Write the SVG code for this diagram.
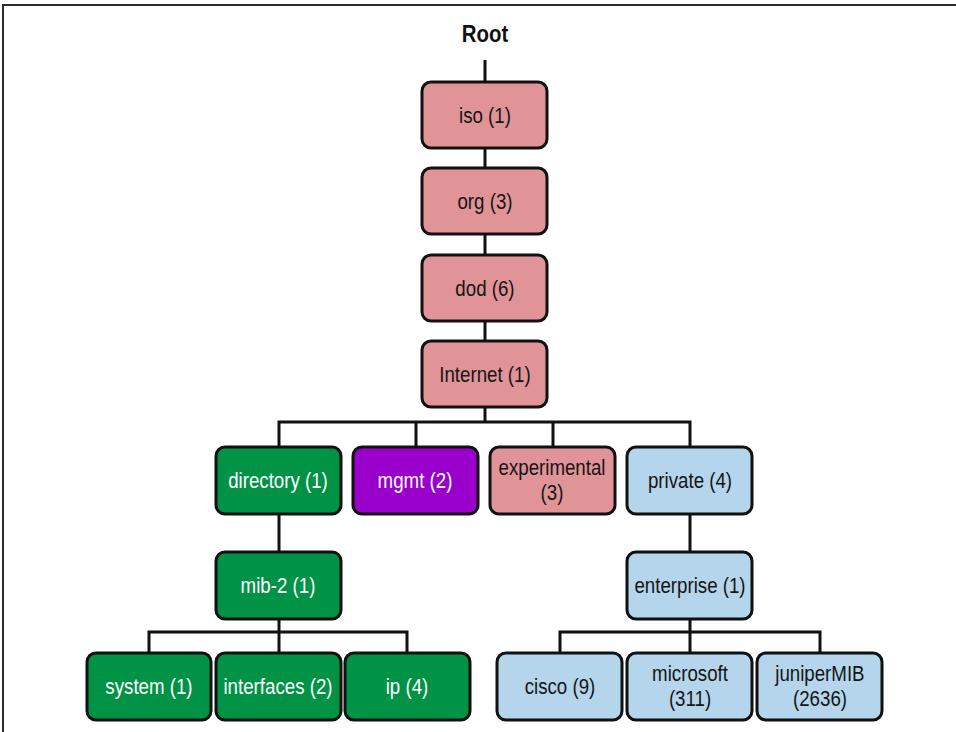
<svg xmlns="http://www.w3.org/2000/svg" width="956" height="732" viewBox="0 0 956 732">
  <style>
    .box { stroke: #111; stroke-width: 3; }
    .pink { fill: #E09498; }
    .green { fill: #009345; }
    .purple { fill: #9A00CC; }
    .blue { fill: #B4D5EB; }
    text { transform-box: fill-box; transform-origin: center; transform: scaleX(0.85); }
    .lbl { font-family: "Liberation Sans Narrow", "Liberation Sans", sans-serif; font-size: 22px; text-anchor: middle; fill: #151515; }
    .lbl.light { fill: #ffffff; }
    .title { font-family: "Liberation Sans Narrow", "Liberation Sans", sans-serif; font-size: 24px; font-weight: bold; text-anchor: middle; fill: #111; }
    .wire { fill: none; stroke: #111; stroke-width: 3; stroke-linejoin: miter; }
    .frame { fill: none; stroke: #2a2a2a; stroke-width: 2; }
  </style>

  <rect width="956" height="732" fill="#ffffff"/>
  <!-- frame: top and left edges -->
  <path class="frame" d="M3,732 V5 H956"/>

  <text class="title" x="485" y="42">Root</text>

  <g id="connectors">
    <path class="wire" d="M485,60 V82"/>
    <path class="wire" d="M485,148 V168"/>
    <path class="wire" d="M485,234 V255"/>
    <path class="wire" d="M485,321 V341"/>
    <path class="wire" d="M485,407 V422"/>
    <path class="wire" d="M279,447 V422 H690 V447"/>
    <path class="wire" d="M416,422 V447"/>
    <path class="wire" d="M553,422 V447"/>
    <path class="wire" d="M279,514 V552"/>
    <path class="wire" d="M690,514 V552"/>
    <path class="wire" d="M279,619 V653"/>
    <path class="wire" d="M149,653 V632 H407 V653"/>
    <path class="wire" d="M690,619 V653"/>
    <path class="wire" d="M560,653 V632 H820 V653"/>
  </g>

  <g id="iso">
    <rect class="box pink" x="422" y="82" width="125" height="66" rx="9"/>
    <text class="lbl" x="485" y="123">iso (1)</text>
  </g>
  <g id="org">
    <rect class="box pink" x="422" y="168" width="125" height="66" rx="9"/>
    <text class="lbl" x="485" y="209">org (3)</text>
  </g>
  <g id="dod">
    <rect class="box pink" x="422" y="255" width="125" height="66" rx="9"/>
    <text class="lbl" x="485" y="296">dod (6)</text>
  </g>
  <g id="internet">
    <rect class="box pink" x="422" y="341" width="125" height="66" rx="9"/>
    <text class="lbl" x="485" y="382">Internet (1)</text>
  </g>

  <g id="directory">
    <rect class="box green" x="216" y="447" width="125" height="67" rx="9"/>
    <text class="lbl light" x="278" y="488">directory (1)</text>
  </g>
  <g id="mgmt">
    <rect class="box purple" x="353" y="447" width="125" height="67" rx="9"/>
    <text class="lbl light" x="415" y="488">mgmt (2)</text>
  </g>
  <g id="experimental">
    <rect class="box pink" x="490" y="447" width="125" height="67" rx="9"/>
    <text class="lbl" x="552" y="475">experimental</text>
    <text class="lbl" x="552" y="500">(3)</text>
  </g>
  <g id="private">
    <rect class="box blue" x="627" y="447" width="125" height="67" rx="9"/>
    <text class="lbl" x="690" y="488">private (4)</text>
  </g>

  <g id="mib-2">
    <rect class="box green" x="216" y="552" width="125" height="67" rx="9"/>
    <text class="lbl light" x="278" y="593">mib-2 (1)</text>
  </g>
  <g id="enterprise">
    <rect class="box blue" x="627" y="552" width="125" height="67" rx="9"/>
    <text class="lbl" x="690" y="593">enterprise (1)</text>
  </g>

  <g id="system">
    <rect class="box green" x="87" y="653" width="124" height="67" rx="9"/>
    <text class="lbl light" x="149" y="694">system (1)</text>
  </g>
  <g id="interfaces">
    <rect class="box green" x="216" y="653" width="125" height="67" rx="9"/>
    <text class="lbl light" x="278" y="694">interfaces (2)</text>
  </g>
  <g id="ip">
    <rect class="box green" x="345" y="653" width="125" height="67" rx="9"/>
    <text class="lbl light" x="407" y="694">ip (4)</text>
  </g>

  <g id="cisco">
    <rect class="box blue" x="497" y="653" width="125" height="67" rx="9"/>
    <text class="lbl" x="560" y="694">cisco (9)</text>
  </g>
  <g id="microsoft">
    <rect class="box blue" x="627" y="653" width="125" height="67" rx="9"/>
    <text class="lbl" x="690" y="681">microsoft</text>
    <text class="lbl" x="690" y="706">(311)</text>
  </g>
  <g id="juniperMIB">
    <rect class="box blue" x="757" y="653" width="125" height="67" rx="9"/>
    <text class="lbl" x="820" y="681">juniperMIB</text>
    <text class="lbl" x="820" y="706">(2636)</text>
  </g>
</svg>
